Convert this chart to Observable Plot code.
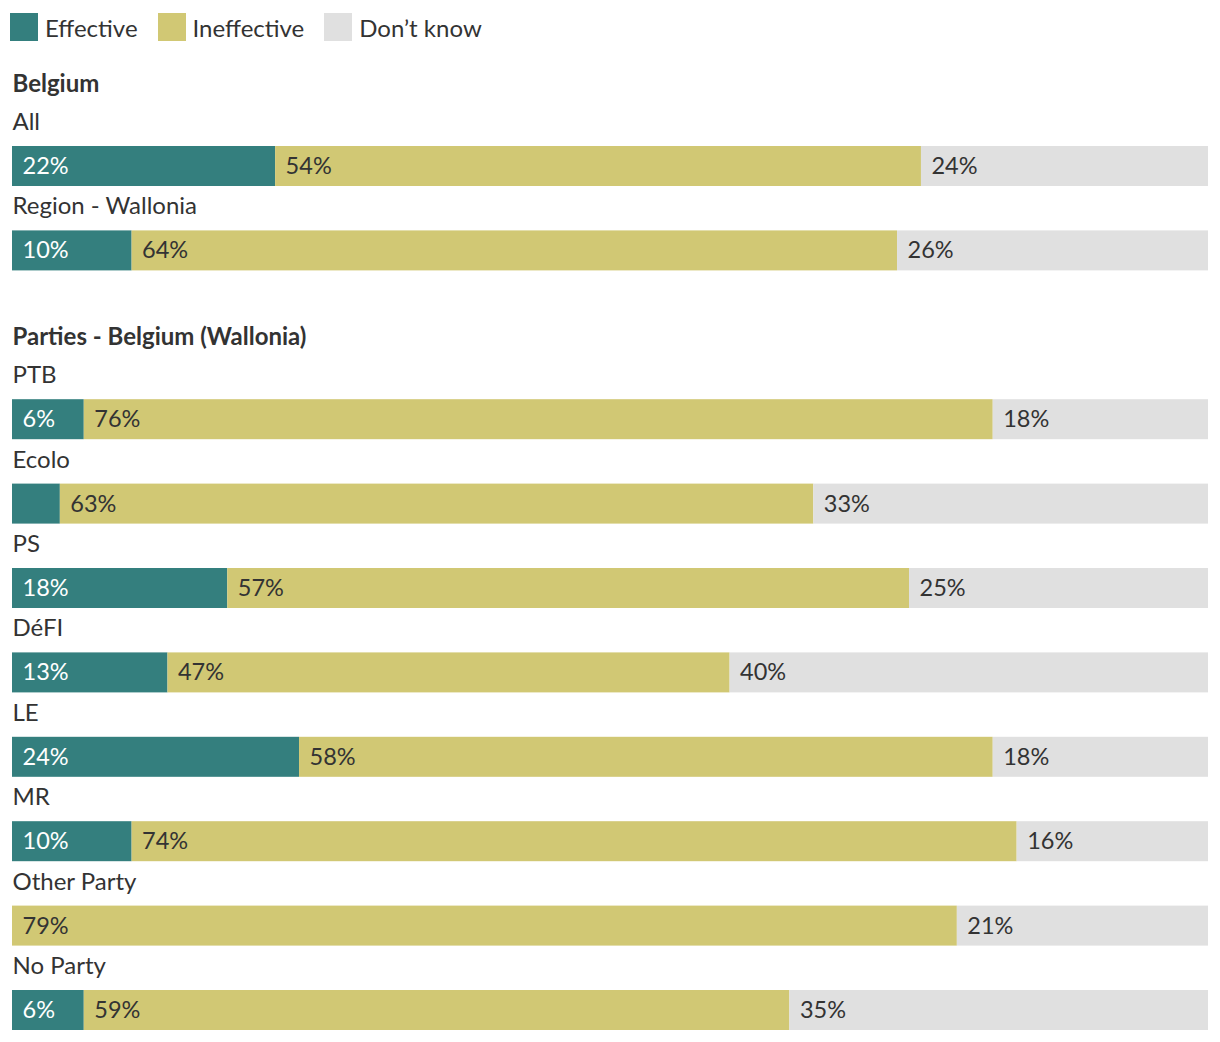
<!DOCTYPE html>
<html>
<head>
<meta charset="utf-8">
<script src="https://cdn.jsdelivr.net/npm/d3@7"></script>
<script src="https://cdn.jsdelivr.net/npm/@observablehq/plot@0.6"></script>
<style>
  html, body { margin: 0; padding: 0; background: #fff; }
  body { font-family: Lato, "Open Sans", sans-serif; color: #333; width: 1220px; }
  #legend { height: 56px; display: flex; align-items: center; padding-left: 10px; padding-bottom: 2px; box-sizing: border-box; }
  .sw { display: flex; align-items: center; margin-right: 20px; font-size: 24px; color: #333; }
  .sw span.box { width: 28px; height: 28px; display: inline-block; margin-right: 7px; }
  svg { display: block; }
</style>
</head>
<body>
<div id="legend"></div>
<div id="chart"></div>
<script>
const rows = ["All", "Region - Wallonia", "PTB", "Ecolo", "PS", "DéFI", "LE", "MR", "Other Party", "No Party"];
const groups = ["Belgium", "Belgium", "Parties - Belgium (Wallonia)", "Parties - Belgium (Wallonia)", "Parties - Belgium (Wallonia)", "Parties - Belgium (Wallonia)", "Parties - Belgium (Wallonia)", "Parties - Belgium (Wallonia)", "Parties - Belgium (Wallonia)", "Parties - Belgium (Wallonia)"];
const effective = [22, 10, 6, 4, 18, 13, 24, 10, 0, 6];
const ineffective = [54, 64, 76, 63, 57, 47, 58, 74, 79, 59];
const dontKnow = [24, 26, 18, 33, 25, 40, 18, 16, 21, 35];
const categories = ["Effective", "Ineffective", "Don’t know"];
const colors = ["#347f7e", "#d1c874", "#e0e0e0"];

const series = [effective, ineffective, dontKnow];
const long = [];
rows.forEach((r, i) => {
  categories.forEach((c, j) => {
    long.push({row: r, cat: c, value: series[j][i], group: groups[i]});
  });
});
const yDomain = [];
rows.forEach((r, i) => {
  if (i > 0 && groups[i] !== groups[i - 1]) yDomain.push("__gap" + i);
  yDomain.push(r);
});
const headings = rows.map((r, i) => ({row: r, group: groups[i]}))
  .filter((d, i) => i === 0 || groups[i] !== groups[i - 1]);

const lg = document.getElementById("legend");
categories.forEach((c, j) => {
  const d = document.createElement("div");
  d.className = "sw";
  d.innerHTML = `<span class="box" style="background:${colors[j]}"></span>${c}`;
  lg.appendChild(d);
});

const plot = Plot.plot({
  width: 1220,
  height: 986,
  marginLeft: 12,
  marginRight: 12,
  marginTop: 45.6,
  marginBottom: 12,
  style: {fontFamily: "Lato, 'Open Sans', sans-serif", fontSize: "24px"},
  x: {domain: [0, 100], axis: null},
  y: {domain: yDomain, axis: null, padding: 0, round: false},
  color: {domain: categories, range: colors},
  marks: [
    Plot.barX(long, {y: "row", x: "value", fill: "cat", order: categories, insetTop: 44.4, insetBottom: 0}),
    Plot.text(long, Plot.stackX1({
      y: "row", x: "value", order: categories, z: "cat",
      text: d => d.value >= 5 ? d.value + "%" : "",
      textAnchor: "start", dx: 10, dy: 22.2,
      fill: d => d.cat === "Effective" ? "#ffffff" : "#333333",
      fontSize: 23.5
    })),
    Plot.text(rows, {
      y: d => d, x: () => 0, text: d => d,
      textAnchor: "start", dy: -22, fill: "#333", fontSize: 24
    }),
    Plot.text(headings, {
      y: "row", x: () => 0, text: "group",
      textAnchor: "start", dy: -60.2, fill: "#333", fontSize: 24, fontWeight: "bold"
    })
  ]
});
document.getElementById("chart").appendChild(plot);
</script>
</body>
</html>
